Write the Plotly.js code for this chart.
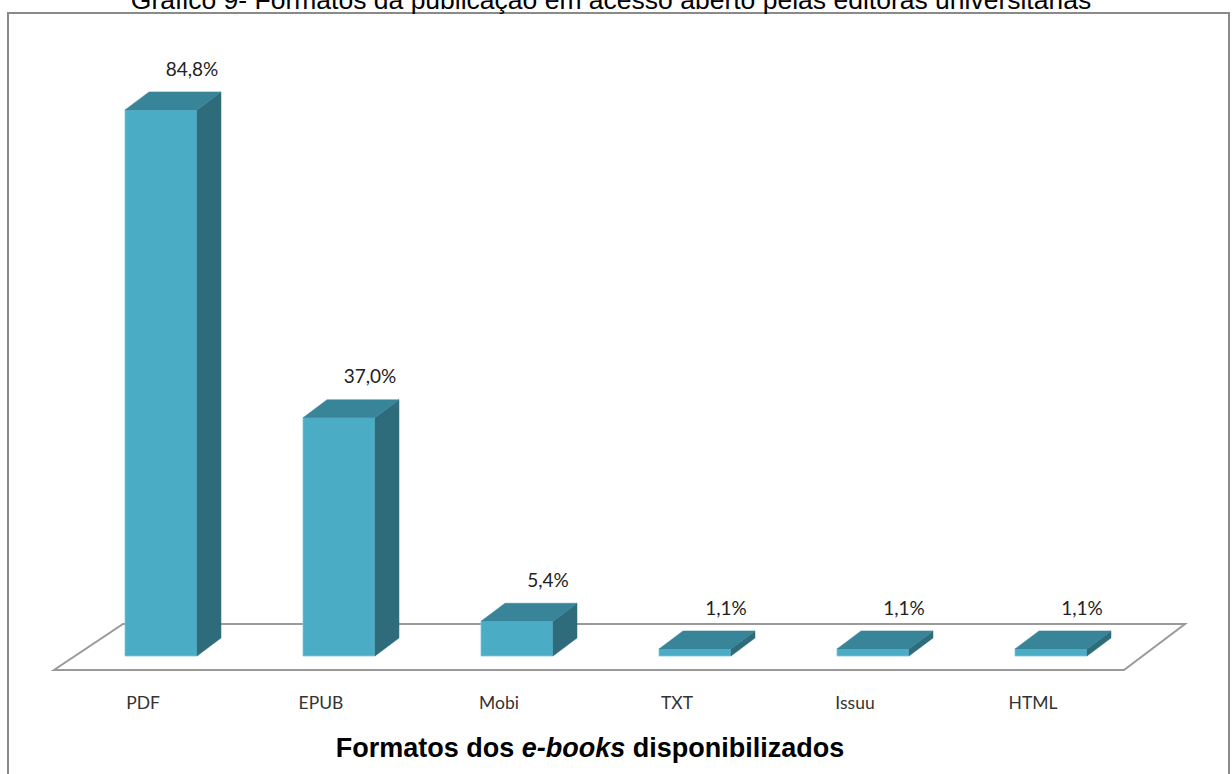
<!DOCTYPE html>
<html>
<head>
<meta charset="utf-8">
<script src="https://cdn.plot.ly/plotly-3.0.1.min.js"></script>
<style>html,body{margin:0;padding:0;background:#fff;}#chart{width:1232px;height:774px;}</style>
</head>
<body>
<div id="chart"></div>
<script>
// ---- data ----
const categories = ["PDF", "EPUB", "Mobi", "TXT", "Issuu", "HTML"];
const values = [84.8, 37.0, 5.4, 1.1, 1.1, 1.1];
const valueLabels = ["84,8%", "37,0%", "5,4%", "1,1%", "1,1%", "1,1%"];
const chartTitle = "Gráfico 9- Formatos da publicação em acesso aberto pelas editoras universitárias";
const axisTitle = "<b>Formatos dos <i>e-books</i> disponibilizados</b>";

// ---- geometry (axis units) ----
const pxPerX = 178, pxPerY = 6.44;
const barW = 72 / pxPerX;
const depthX = 24 / pxPerX, depthY = 18 / pxPerY;
const idx = categories.map((_, i) => i);

const frontCol = "#4BACC6", topCol = "#388498", sideCol = "#2F6C7B";

// side faces
const sx = [], sy = [];
idx.forEach(i => {
  const r = i + barW / 2, v = values[i];
  sx.push(r, r + depthX, r + depthX, r, r, null);
  sy.push(0, depthY, v + depthY, v, 0, null);
});
// top faces
const tx = [], ty = [];
idx.forEach(i => {
  const l = i - barW / 2, r = i + barW / 2, v = values[i];
  tx.push(l, r, r + depthX, l + depthX, l, null);
  ty.push(v, v, v + depthY, v + depthY, v, null);
});

const traces = [
  { type: "bar", x: idx, y: values, width: barW, marker: { color: frontCol, line: { width: 0.8, color: "#7cc6d9" } },
    hoverinfo: "skip", showlegend: false },
  { type: "scatter", mode: "lines", x: sx, y: sy, fill: "toself", fillcolor: sideCol, line: { width: 0.5, color: sideCol },
    hoverinfo: "skip", showlegend: false },
  { type: "scatter", mode: "lines", x: tx, y: ty, fill: "toself", fillcolor: topCol, line: { width: 0.5, color: topCol },
    hoverinfo: "skip", showlegend: false },
  { type: "scatter", mode: "text", x: idx.map(i => i + 31 / pxPerX), y: values.map(v => v + depthY + 21 / pxPerY),
    text: valueLabels, textposition: "middle center",
    textfont: { family: "Lato, 'Open Sans', sans-serif", size: 19, color: "#222" },
    hoverinfo: "skip", showlegend: false }
];

const mTop = 40, mBottom = 84, mRight = 52;
const plotW = 1232 - mRight;
const plotH = 774 - mTop - mBottom;
const yLow = -(690 - 656) / pxPerY;
const yHigh = (656 - mTop) / pxPerY;

// floor parallelogram (decoration), in paper units so it is not clipped
const px = (p) => p / plotW;
const py = (p) => (690 - p) / plotH;
const floorPath = `M ${px(54)},${py(670)} L ${px(1124)},${py(670)} L ${px(1185)},${py(624)} L ${px(123)},${py(624)} Z`;

const layout = {
  width: 1232, height: 774,
  margin: { l: 0, r: mRight, t: mTop, b: mBottom },
  paper_bgcolor: "#fff", plot_bgcolor: "rgba(0,0,0,0)",
  title: { text: chartTitle, x: 611 / 1232, xanchor: "center", xref: "container", y: 1, yref: "container", yanchor: "middle",
    font: { family: "Liberation Sans, Arial, sans-serif", size: 26.5, color: "#000" } },
  xaxis: {
    range: [-161 / pxPerX, (plotW - 161) / pxPerX],
    tickvals: idx.map(i => i - 18 / pxPerX), ticktext: categories,
    showgrid: false, zeroline: false, showline: false, ticks: "",
    tickfont: { family: "Lato, 'Open Sans', sans-serif", size: 17.5, color: "#333" },
    title: { text: axisTitle, standoff: 26, font: { family: "Liberation Sans, Arial, sans-serif", size: 27, color: "#000" } },
    automargin: false, fixedrange: true
  },
  yaxis: {
    range: [yLow, yHigh], visible: false, showgrid: false, zeroline: false, fixedrange: true
  },
  shapes: [
    { type: "rect", xref: "paper", yref: "paper", x0: 8 / plotW, x1: 1229 / plotW,
      y0: (690 - 790) / plotH, y1: (690 - 13) / plotH,
      line: { color: "#8a8a8a", width: 2 }, fillcolor: "rgba(0,0,0,0)", layer: "below" },
    { type: "path", xref: "paper", yref: "paper", path: floorPath, line: { color: "#9a9a9a", width: 2 }, fillcolor: "#fff", layer: "below" }
  ],
  bargap: 0
};

Plotly.newPlot("chart", traces, layout, { displayModeBar: false, staticPlot: true });
</script>
</body>
</html>
